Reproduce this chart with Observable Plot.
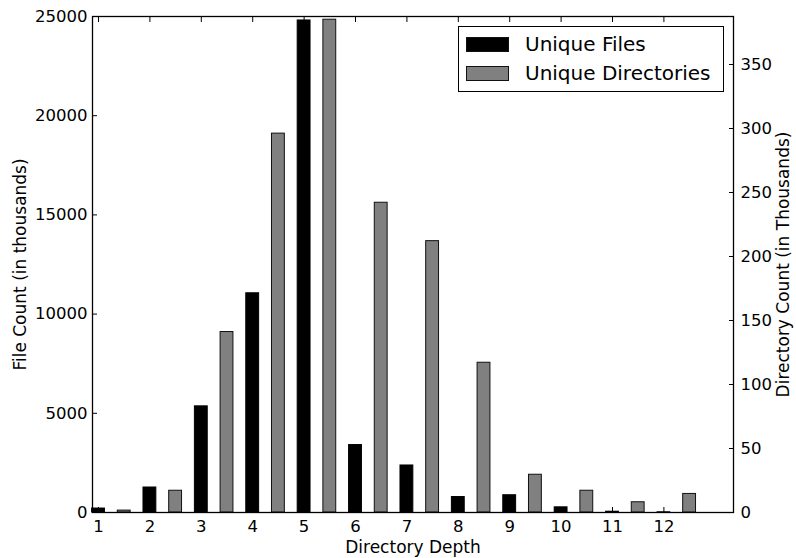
<!DOCTYPE html>
<html>
<head>
<meta charset="utf-8">
<script src="https://cdn.jsdelivr.net/npm/d3@7"></script>
<script src="https://cdn.jsdelivr.net/npm/@observablehq/plot@0.6"></script>
<style>
  body { margin: 0; background: #fff; }
  #chart { position: relative; width: 796px; height: 558px; font-family: "DejaVu Sans", sans-serif; }
  #chart svg { display: block; }
  .legend {
    position: absolute; left: 458px; top: 26px; width: 264px; height: 64px;
    border: 1px solid #000; background: #fff; box-sizing: content-box;
  }
  .legend .row { position: absolute; left: 7px; height: 20px; display: flex; align-items: center; }
  .legend .sw { width: 41px; height: 13px; border: 1px solid #111; margin-right: 16px; }
  .legend .lab { font-size: 20px; color: #000; line-height: 20px; white-space: nowrap; }
</style>
</head>
<body>
<div id="chart"></div>
<script>
// Depth of each path in the tree
const depths = [1, 2, 3, 4, 5, 6, 7, 8, 9, 10, 11, 12];
// Unique files per depth (thousands)
const uniqueFiles = [200, 1260, 5350, 11050, 24800, 3400, 2370, 780, 870, 260, 40, 10];
// Unique directories per depth (thousands)
const uniqueDirs = [1.5, 17, 141, 296, 385, 242, 212, 117, 29.5, 17, 8, 14.5];

// Axis ticks
const fileTicks = [0, 5000, 10000, 15000, 20000, 25000];
const dirTicks = [0, 50, 100, 150, 200, 250, 300, 350];
const depthTicks = [1, 2, 3, 4, 5, 6, 7, 8, 9, 10, 11, 12];

// Axis limits: left (files) and right (directories) share the plot height
const fileMax = 25000;
const dirMax = 387.5;
const dirToFile = fileMax / dirMax;

const seriesNames = ["Unique Files", "Unique Directories"];
const seriesFill = ["#000000", "#808080"];

const rows = depths.map((d, i) => ({depth: d, files: uniqueFiles[i], dirs: uniqueDirs[i]}));
const barW = 0.25;
const tickFont = 16.5;
const labelFont = 17;

const chart = Plot.plot({
  width: 796,
  height: 558,
  marginLeft: 92,
  marginRight: 63,
  marginTop: 16,
  marginBottom: 46,
  style: {fontFamily: "DejaVu Sans, sans-serif", fontSize: tickFont + "px", background: "white", color: "black"},
  x: {domain: [0.883, 13.354]},
  y: {domain: [0, fileMax]},
  marks: [
    // files, centred on each depth
    Plot.rect(rows, {
      x1: d => d.depth - barW / 2, x2: d => d.depth + barW / 2,
      y1: 0, y2: "files",
      fill: seriesFill[0], stroke: "#000", strokeWidth: 1
    }),
    // directories, half a step to the right, on the right-hand scale
    Plot.rect(rows, {
      x1: d => d.depth + 0.5 - barW / 2, x2: d => d.depth + 0.5 + barW / 2,
      y1: 0, y2: d => d.dirs * dirToFile,
      fill: seriesFill[1], stroke: "#111", strokeWidth: 1
    }),
    // left axis: labels, then inward ticks
    Plot.axisY({anchor: "left", ticks: fileTicks, tickSize: 0, tickPadding: 5, fontSize: tickFont,
      tickFormat: d => String(d), label: null}),
    Plot.axisY({anchor: "left", ticks: [], tickSize: 0, fontSize: labelFont,
      label: "File Count (in thousands)", labelAnchor: "center", labelArrow: "none", labelOffset: 79}),
    Plot.axisY({anchor: "left", ticks: fileTicks, tickSize: -5, tickFormat: () => "", label: null}),
    // right axis in directory units
    Plot.axisY({anchor: "right", ticks: dirTicks.map(v => v * dirToFile), tickSize: 0, tickPadding: 7, fontSize: tickFont,
      tickFormat: v => String(Math.round(v / dirToFile)), label: null}),
    Plot.axisY({anchor: "right", ticks: [], tickSize: 0, fontSize: labelFont,
      label: "Directory Count (in Thousands)", labelAnchor: "center", labelArrow: "none", labelOffset: 55}),
    Plot.axisY({anchor: "right", ticks: dirTicks.map(v => v * dirToFile), tickSize: -5, tickFormat: () => "", label: null}),
    // bottom axis
    Plot.axisX({anchor: "bottom", ticks: depthTicks, tickSize: 0, tickPadding: 8, fontSize: tickFont,
      tickFormat: d => String(d), label: null}),
    Plot.axisX({anchor: "bottom", ticks: [], tickSize: 0, fontSize: labelFont,
      label: "Directory Depth", labelAnchor: "center", labelArrow: "none", labelOffset: 40}),
    Plot.axisX({anchor: "bottom", ticks: depthTicks, tickSize: -5, tickFormat: () => "", label: null}),
    Plot.axisX({anchor: "top", ticks: depthTicks, tickSize: -5, tickFormat: () => "", label: null}),
    Plot.frame({stroke: "#000", strokeWidth: 1.3})
  ]
});

const host = document.getElementById("chart");
host.appendChild(chart);

// legend box inside the upper-right corner
const legend = document.createElement("div");
legend.className = "legend";
seriesNames.forEach((name, i) => {
  const row = document.createElement("div");
  row.className = "row";
  row.style.top = (i === 0 ? 7 : 36) + "px";
  const sw = document.createElement("div");
  sw.className = "sw";
  sw.style.background = seriesFill[i];
  const lab = document.createElement("span");
  lab.className = "lab";
  lab.textContent = name;
  row.appendChild(sw);
  row.appendChild(lab);
  legend.appendChild(row);
});
host.appendChild(legend);
</script>
</body>
</html>
